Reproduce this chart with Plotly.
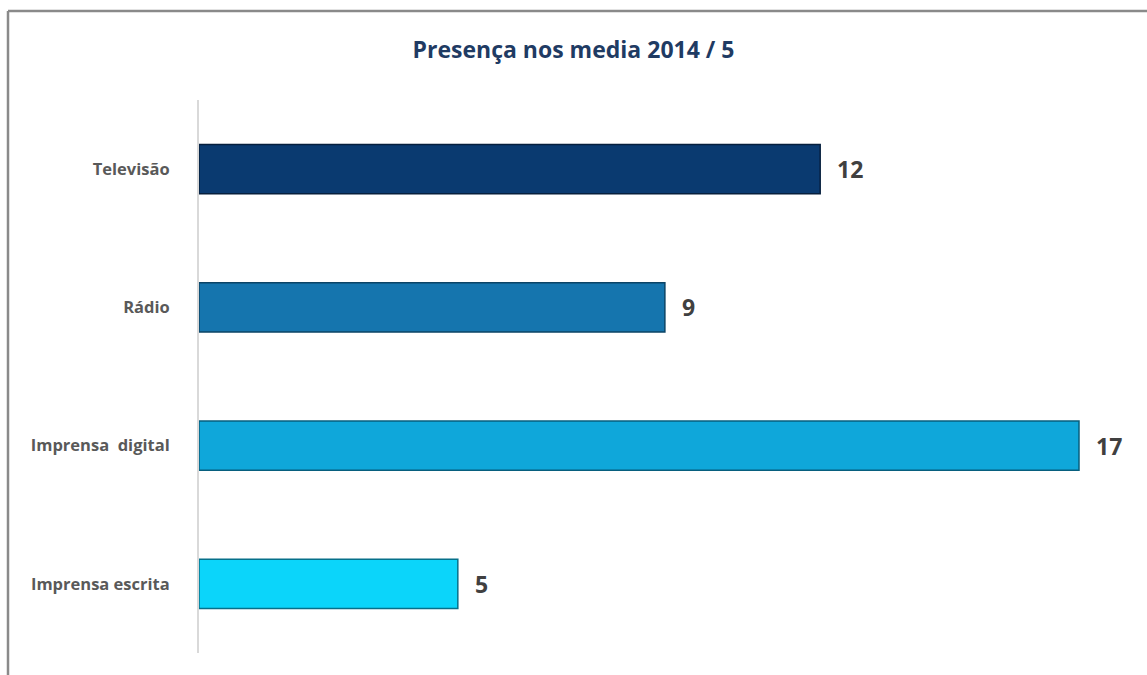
import plotly.graph_objects as go

categories = ["Televisão", "Rádio", "Imprensa  digital", "Imprensa escrita"]
values = [12, 9, 17, 5]
bar_colors = ["#0a3a70", "#1575ae", "#0fa7da", "#0bd5fa"]
edge_colors = ["#061f3d", "#0b4466", "#075f7e", "#06708a"]
title_text = "Presença nos media 2014 / 5"

W, H = 1147, 675
L, R, T, B = 199, 27, 100, 22

fig = go.Figure()
fig.add_trace(go.Bar(
    y=categories, x=values, orientation="h",
    marker=dict(color=bar_colors, line=dict(color=edge_colors, width=1.5)),
    width=0.355, hoverinfo="skip",
))

for c, v in zip(categories, values):
    fig.add_annotation(x=v, y=c, text=f"<b>{v}</b>", showarrow=False,
                       xanchor="left", xshift=15,
                       font=dict(family="Open Sans", size=23, color="#404040"))

pw = W - L - R
ph = H - T - B
x_left = (8 - L) / pw
y_top = (H - B - 11) / ph
fig.add_shape(type="line", xref="paper", yref="paper",
              x0=x_left, x1=(W + 5 - L) / pw, y0=y_top, y1=y_top,
              line=dict(color="#8a8a8a", width=2.5))
fig.add_shape(type="line", xref="paper", yref="paper",
              x0=x_left, x1=x_left, y0=y_top, y1=-0.1,
              line=dict(color="#8a8a8a", width=2.5))

fig.update_layout(
    width=W, height=H,
    margin=dict(l=L, r=R, t=T, b=B),
    paper_bgcolor="white", plot_bgcolor="white",
    showlegend=False,
    title=dict(text=f"<b>{title_text}</b>", x=0.5, xref="container", xanchor="center",
               y=(H - 50) / H, yanchor="middle",
               font=dict(family="Open Sans", size=23, color="#1f3b63")),
    xaxis=dict(range=[0, pw / (880 / 17)], showgrid=False, zeroline=False,
               showticklabels=False, showline=False, fixedrange=True),
    yaxis=dict(categoryorder="array", categoryarray=categories[::-1],
               showgrid=False, zeroline=False, showline=True,
               linecolor="#d9d9d9", linewidth=2, ticks="",
               ticklabelstandoff=24,
               tickfont=dict(family="Open Sans", size=16.5, color="#595959",
                             weight="bold")),
)

fig.write_html("out.html")
